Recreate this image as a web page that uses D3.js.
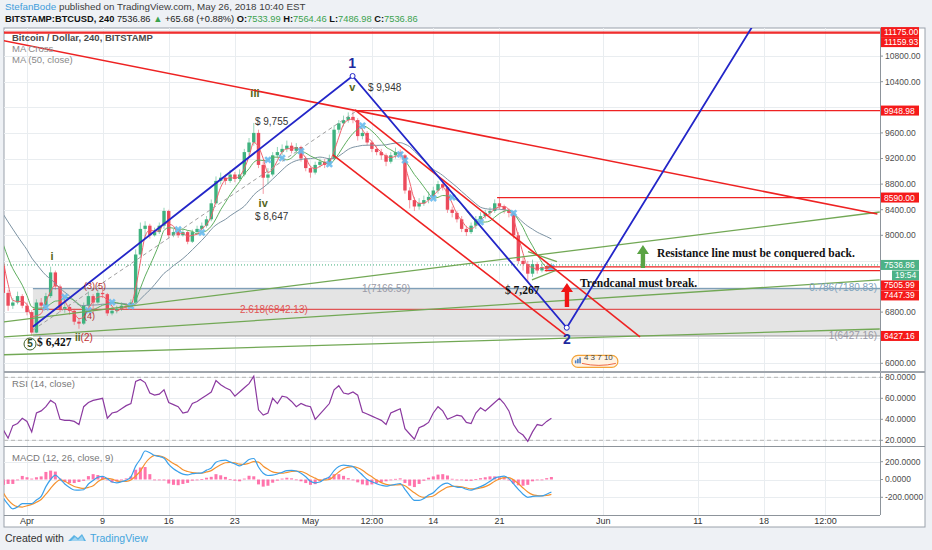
<!DOCTYPE html>
<html><head><meta charset="utf-8">
<script src="https://cdn.jsdelivr.net/npm/d3@7"></script>
<style>
html,body{margin:0;padding:0;background:#eef1f5;}
svg{display:block;font-family:"Liberation Sans",Arial,sans-serif;}
</style></head><body>
<svg id="c" width="932" height="550"></svg>
<script>
// ---------------- DATA ----------------
const candleStart = "2018-03-29T12:00";   // first candle (UTC), one candle every 12h
const candleHours = 12;
const firstOpen = 7520;
const closes = [7100,6900,6950,7050,6900,6800,6480,6950,6900,7050,
 7420,7200,6850,6880,6820,6650,6620,6900,7050,6950,
 7100,7080,6780,6820,6850,6900,6880,6950,7700,8100,
 8150,8000,8050,8150,8380,8000,8050,8000,8050,7900,
 8050,8100,8150,8250,8500,8850,8900,8850,8950,8880,
 8950,9300,9450,9600,9100,8900,8950,9250,9300,9350,
 9400,9320,9380,9200,9050,8980,9100,9150,9100,9200,
 9650,9750,9800,9850,9800,9550,9600,9450,9350,9300,
 9250,9150,9250,9300,9250,8700,8550,8450,8500,8550,
 8600,8700,8800,8750,8400,8350,8250,8100,8050,8150,
 8250,8300,8350,8380,8500,8450,8400,8350,8000,7600,
 7550,7400,7550,7450,7500,7470,7537];
const highs = [7560,7150,7020,7120,7080,6950,6830,7000,7020,7100,
 7510,7450,7230,6950,6920,6850,6700,6950,7120,7080,
 7150,7180,7100,6880,6900,6950,6940,7000,7780,8200,
 8220,8180,8120,8200,8430,8400,8100,8090,8110,8070,
 8090,8150,8200,8300,8560,8920,8980,8950,9020,8990,
 9030,9350,9520,9755,9650,9150,9050,9300,9380,9420,
 9480,9450,9440,9400,9230,9080,9150,9200,9190,9260,
 9720,9800,9870,9920,9948,9830,9680,9630,9480,9400,
 9350,9280,9300,9370,9340,9270,8750,8600,8580,8620,
 8680,8760,8850,8840,8770,8450,8380,8300,8150,8200,
 8300,8360,8400,8440,8560,8590,8480,8420,8380,8050,
 7680,7600,7620,7580,7560,7540,7564];
const lows = [7050,6820,6850,6920,6860,6750,6427,6470,6850,6880,
 7020,7150,6800,6790,6760,6600,6540,6600,6870,6770,
 6930,7020,6740,6750,6780,6820,6840,6860,6930,7650,
 7950,7950,7980,8020,8100,7950,7970,7960,7980,7860,
 7880,8020,8060,8120,8220,8480,8800,8790,8820,8830,
 8850,8920,9250,9400,9050,8647,8800,8920,9200,9250,
 9300,9280,9290,9150,9000,8900,8950,9060,9050,9080,
 9180,9600,9700,9760,9750,9480,9500,9400,9300,9250,
 9180,9080,9120,9200,9200,8650,8420,8380,8400,8460,
 8500,8560,8650,8700,8350,8280,8200,8050,7990,8020,
 8100,8200,8260,8300,8350,8400,8340,8280,7950,7550,
 7450,7267,7350,7400,7420,7430,7460];
// closes before the first drawn candle (only feed the moving averages)
const warmupCloses = [8900,8850,8950,8700,8600,8650,8550,8500,8450,8450,8300,8150,7950,7800,7950,7700];
const rsiValues = [30,22,34,36,41,38,28,46,48,52,
 58,55,40,39,39,38,35,52,56,58,
 59,60,41,46,47,50,53,55,76,78,
 75,65,63,64,68,56,54,52,46,47,
 55,57,60,63,66,77,73,70,68,62,
 66,70,74,81,49,44,46,60,55,62,
 61,57,52,55,53,52,40,45,50,55,
 68,72,65,64,66,63,47,45,43,41,
 39,35,46,48,50,31,26,21,32,34,
 37,46,52,48,40,42,44,43,37,36,
 46,51,48,52,56,60,55,48,35,28,
 25,19,28,35,34,38,41];
const macdValues = [-210,-280,-330,-310,-270,-270,-270,-230,-190,-80,
 0,49,5,-50,-90,-118,-120,-115,-50,-10,
 25,35,10,-28,-37,-25,-8,30,150,230,
 320,300,270,258,240,170,120,86,60,52,
 65,70,75,105,130,195,212,217,195,175,
 152,180,225,236,140,70,45,49,62,80,
 100,103,96,70,30,-20,-37,-28,5,30,
 100,145,161,155,145,100,50,0,-25,-47,
 -65,-75,-65,-55,-45,-110,-180,-235,-235,-214,
 -175,-150,-95,-55,-40,-70,-85,-90,-110,-120,
 -100,-80,-55,-20,15,30,37,10,-50,-110,
 -165,-200,-190,-187,-185,-165,-140];
const signalValues = [-150,-230,-280,-305,-310,-295,-280,-255,-225,-165,
 -100,-40,-5,-20,-50,-78,-92,-100,-88,-70,
 -25,5,12,5,-15,-22,-20,-5,40,95,
 180,240,270,265,250,215,180,150,110,90,
 78,72,70,85,100,135,165,188,192,188,
 172,170,183,200,195,150,115,85,75,70,
 80,90,95,90,70,40,15,-8,-5,0,
 40,85,120,140,145,132,105,65,30,-5,
 -35,-55,-63,-62,-58,-70,-110,-150,-185,-200,
 -195,-185,-150,-115,-85,-78,-78,-82,-95,-105,
 -105,-95,-80,-55,-20,5,20,20,-5,-45,
 -95,-140,-170,-180,-185,-180,-168];
const maShortLen = 3, maLongLen = 7, ma50Len = 17;   // 9 / 21 / 50 four-hour bars expressed in 12h bars

const priceTicks = [6000,6400,6800,7200,7600,8000,8400,8800,9200,9600,10000,10400,10800,11200];
const rsiTicks = [20,40,60,80];
const rsiBands = [80,20];
const macdTicks = [-200,0,200];
const timeTicks = [["2018-04-01T00:00","Apr"],["2018-04-09T00:00","9"],["2018-04-16T00:00","16"],["2018-04-23T00:00","23"],
 ["2018-05-01T00:00","May"],["2018-05-07T12:00","12:00"],["2018-05-14T00:00","14"],["2018-05-21T00:00","21"],
 ["2018-06-01T00:00","Jun"],["2018-06-11T00:00","11"],["2018-06-18T00:00","18"],["2018-06-24T12:00","12:00"]];

// drawings (time, price)
const resistanceLine = [["2018-03-29T12:00",11041],["2018-06-30T00:00",8333]];
const greenLines = [
 [["2018-03-29T12:00",6645],["2018-06-30T06:00",8364]],
 [["2018-03-29T12:00",6411],["2018-06-30T06:00",7302]],
 [["2018-03-29T12:00",6133],["2018-06-30T06:00",6536]],
 [["2018-05-24T00:30",7744],["2018-05-27T02:00",7588]],
 [["2018-05-24T10:30",7302],["2018-05-27T02:00",7458]]];
const waveLine = [["2018-04-01T15:00",6572],["2018-05-05T11:00",10489],["2018-05-28T03:00",6556],["2018-06-17T00:00",11318]];
const channelLines = [
 [["2018-05-05T17:00",9958],["2018-06-04T21:00",6411]],
 [["2018-05-03T09:00",9255],["2018-05-28T01:00",6442]]];
const dashedLine = [["2018-04-01T15:00",6520],["2018-05-05T17:00",9927]];
const hLevels = [[11175.00,"2018-03-29T00:00"],[11159.93,"2018-03-29T00:00"],[9948.98,"2018-05-05T17:00"],
 [8590.00,"2018-05-20T18:00"],[7505.99,"2018-05-25T19:00"],[7447.39,"2018-05-25T19:00"]];
const lastPrice = 7536.86;
const lastTime = "19:54";
const fibStart = "2018-04-01T15:00";
const fibTop = 7166.59, fibBottom = 6427.16, fibMid = 6842.13;
const fibLabels = [["1(7166.59)","2018-05-06T11:00",7166.59],["2.618(6842.13)","2018-04-23T13:00",6842.13]];
const fibRightLabels = [["0.786(7180.83)",7180.83],["1(6427.16)",6427.16]];
const waveLabels = [["iii","2018-04-25T03:00",10161],["v","2018-05-05T10:00",10255],["iv","2018-04-26T00:00",8442],["i","2018-04-03T15:30",7614]];
const waveNumbers = [["1","2018-05-05T10:00",10620],["2","2018-05-28T03:30",6295]];
const priceNotes = [["$ 9,948","2018-05-07T02:00",10255],["$ 9,755","2018-04-25T03:00",9723],["$ 8,647","2018-04-25T03:00",8239]];
const boldNotes = [["$ 6,427","2018-04-02T01:30",6270],["$ 7,267","2018-05-21T14:00",7083]];
const subLabels = [["(3)(5)","2018-04-07T01:00",7161],["(4)","2018-04-07T01:00",6692]];
const iiLabel = ["ii","(2)","2018-04-06T02:00",6348];
const circledFive = ["5","2018-04-01T07:40",6302];
const comments = [["Trendcanal must break.","2018-05-29T12:30",7192],["Resistance line must be conquered back.","2018-06-06T16:00",7661]];
const upArrows = [["2018-05-28T03:30",6880,7255,"red"],["2018-06-05T04:30",7489,7848,"green"]];
const eventsIcon = ["2018-05-28T16:00",6030,"4 3 7 10"];

// ---------------- SETUP ----------------
const parseT = d3.utcParse("%Y-%m-%dT%H:%M");
const t0 = parseT(candleStart).getTime();
const times = closes.map((_, i) => new Date(t0 + i * candleHours * 3600e3));
const opens = closes.map((c, i) => i === 0 ? firstOpen : closes[i - 1]);

const P = {l:4, r:880, frameR:925, top:28, mainB:372, rsiB:446, macdB:515, frameB:527};
const x = d3.scaleUtc().domain([parseT("2018-04-01T00:00"), parseT("2018-06-18T00:00")]).range([27, 764]);
const y = d3.scaleLinear().domain([6000, 10400]).range([363.3, 81.7]);
const yR = d3.scaleLinear().domain([20, 80]).range([440.3, 377.3]);
const yM = d3.scaleLinear().domain([-200, 200]).range([497.3, 461.7]);
const pt = d => [x(parseT(d[0])), y(d[1])];

const RED = "#ee2222", BLUE = "#2326c8", GREEN = "#72a855", OLIVE = "#55661c";
const SERIF = "'Liberation Serif','Times New Roman',serif";

const svg = d3.select("#c");
svg.append("rect").attr("width", 932).attr("height", 550).attr("fill", "#eef1f5");
svg.append("rect").attr("x", P.l).attr("y", P.top).attr("width", P.frameR - P.l).attr("height", P.frameB - P.top)
  .attr("fill", "#fff").attr("stroke", "#9aa2ab").attr("stroke-width", 1);

const defs = svg.append("defs");
function clip(id, y0, y1) {
  defs.append("clipPath").attr("id", id).append("rect").attr("x", P.l).attr("y", y0).attr("width", P.r - P.l).attr("height", y1 - y0);
}
clip("cm", P.top, P.mainB); clip("cr", P.mainB, P.rsiB); clip("cd", P.rsiB, P.macdB);

// ---------------- GRID ----------------
const grid = svg.append("g").attr("stroke", "#e9edf0").attr("stroke-width", 1);
timeTicks.forEach(d => {
  const xx = Math.round(x(parseT(d[0]))) + 0.5;
  grid.append("line").attr("x1", xx).attr("x2", xx).attr("y1", P.top).attr("y2", P.macdB);
});
priceTicks.forEach(p => { const yy = Math.round(y(p)) + 0.5; if (yy > P.top && yy < P.mainB) grid.append("line").attr("x1", P.l).attr("x2", P.r).attr("y1", yy).attr("y2", yy); });
rsiTicks.forEach(p => { const yy = Math.round(yR(p)) + 0.5; grid.append("line").attr("x1", P.l).attr("x2", P.r).attr("y1", yy).attr("y2", yy); });
macdTicks.forEach(p => { const yy = Math.round(yM(p)) + 0.5; grid.append("line").attr("x1", P.l).attr("x2", P.r).attr("y1", yy).attr("y2", yy); });

// ---------------- MAIN PANEL ----------------
const gm = svg.append("g").attr("clip-path", "url(#cm)");
const xr = x(parseT(fibStart));
gm.append("rect").attr("x", xr).attr("y", y(fibTop)).attr("width", P.r - xr).attr("height", y(fibBottom) - y(fibTop)).attr("fill", "#e4e4e4");
gm.append("line").attr("x1", xr).attr("x2", P.r).attr("y1", y(fibTop)).attr("y2", y(fibTop)).attr("stroke", "#7f9fb8").attr("stroke-width", 1.2);
gm.append("line").attr("x1", xr).attr("x2", P.r).attr("y1", y(fibBottom)).attr("y2", y(fibBottom)).attr("stroke", "#9a9a9a").attr("stroke-width", 1);
gm.append("line").attr("x1", xr).attr("x2", P.r).attr("y1", y(fibMid)).attr("y2", y(fibMid)).attr("stroke", "#e05555").attr("stroke-width", 1.1);

gm.append("line").attr("x1", P.l).attr("x2", P.r).attr("y1", y(lastPrice)).attr("y2", y(lastPrice))
  .attr("stroke", "#3fae7c").attr("stroke-width", 1).attr("stroke-dasharray", "1,2");

// candles
const bw = 3.4;
const cg = gm.append("g");
closes.forEach((c, i) => {
  const o = opens[i], up = c >= o, col = up ? "#3fb27f" : "#ec4a5b";
  const xx = x(times[i]);
  cg.append("line").attr("x1", xx).attr("x2", xx).attr("y1", y(highs[i])).attr("y2", y(lows[i])).attr("stroke", col).attr("stroke-opacity", 0.55).attr("stroke-width", 1);
  const y0 = y(Math.max(o, c)), h = Math.max(1, Math.abs(y(o) - y(c)));
  cg.append("rect").attr("x", xx - bw / 2).attr("y", y0).attr("width", bw).attr("height", h).attr("fill", col);
});

// moving averages
const all = warmupCloses.concat(closes);
const sma = n => closes.map((c, i) => { const j = i + warmupCloses.length; return d3.mean(all.slice(j - n + 1, j + 1)); });
const maS = sma(maShortLen), maL = sma(maLongLen), ma50 = sma(ma50Len);
const lineXY = arr => d3.line().x((d, i) => x(times[i])).y(d => y(d)).curve(d3.curveMonotoneX)(arr);
gm.append("path").attr("d", lineXY(ma50)).attr("fill", "none").attr("stroke", "#7d93a3").attr("stroke-width", 1);
gm.append("path").attr("d", lineXY(maL)).attr("fill", "none").attr("stroke", "#5fae5f").attr("stroke-width", 1);
gm.append("path").attr("d", lineXY(maS)).attr("fill", "none").attr("stroke", "#f0606b").attr("stroke-width", 1);
for (let i = 1; i < closes.length; i++) {
  if (Math.sign(maS[i] - maL[i]) !== Math.sign(maS[i - 1] - maL[i - 1])) {
    gm.append("path").attr("d", d3.symbol(d3.symbolCross, 34)())
      .attr("transform", `translate(${x(times[i])},${y(maL[i])}) rotate(45)`).attr("fill", "#6cbcef").attr("opacity", 0.9);
  }
}

// horizontal levels
hLevels.forEach(d => {
  gm.append("line").attr("x1", Math.max(P.l, x(parseT(d[1])))).attr("x2", P.r).attr("y1", y(d[0])).attr("y2", y(d[0]))
    .attr("stroke", RED).attr("stroke-width", d[0] > 11000 ? 1.4 : 1.2);
});
const seg = (pts, col, w, dash) => gm.append("path").attr("d", d3.line()(pts.map(pt))).attr("fill", "none")
  .attr("stroke", col).attr("stroke-width", w).attr("stroke-dasharray", dash || null);
seg(dashedLine, "#a0a0a0", 1, "4,3");
greenLines.forEach(l => seg(l, GREEN, 1.3));
seg(resistanceLine, RED, 1.6);
channelLines.forEach(l => seg(l, RED, 1.6));
seg(waveLine, BLUE, 1.8);
waveLine.slice(1, 3).forEach(d => { const p = pt(d); gm.append("circle").attr("cx", p[0]).attr("cy", p[1]).attr("r", 2.5).attr("fill", "#fff").attr("stroke", BLUE).attr("stroke-width", 1); });

// arrows
upArrows.forEach(a => {
  const xx = x(parseT(a[0])), yb = y(a[1]), yt = y(a[2]);
  const col = a[3] === "red" ? "#f01414" : "#5aa343";
  gm.append("path").attr("d", `M${xx - 2.2},${yb} L${xx - 2.2},${yt + 9} L${xx - 6},${yt + 9} L${xx},${yt} L${xx + 6},${yt + 9} L${xx + 2.2},${yt + 9} L${xx + 2.2},${yb} Z`).attr("fill", col);
});

// texts on chart
const T = (s, d, p, o, st) => {
  const t = gm.append("text").attr("x", x(parseT(d))).attr("y", y(p)).text(s);
  Object.entries(o || {}).forEach(([k, v]) => t.attr(k, v));
  Object.entries(st || {}).forEach(([k, v]) => t.style(k, v));
  return t;
};
fibLabels.forEach((d, i) => T(d[0], d[1], d[2], {"font-size": 10, fill: i === 0 ? "#9a9aa6" : "#e05555", dy: "0.35em"}));
fibRightLabels.forEach((d, i) => gm.append("text").attr("x", P.r - 3).attr("y", y(d[1])).attr("dy", "0.35em").attr("text-anchor", "end")
  .attr("font-size", 10).attr("fill", i === 0 ? "#7fa3bd" : "#9a9aa6").text(d[0]));
waveLabels.forEach(d => T(d[0], d[1], d[2], {"font-size": 11, "font-weight": "bold", fill: OLIVE, "text-anchor": "middle"}));
waveNumbers.forEach(d => T(d[0], d[1], d[2], {"font-size": 14, "font-weight": "bold", fill: "#1d2a9e", "text-anchor": "middle"}));
priceNotes.forEach(d => T(d[0], d[1], d[2], {"font-size": 10, fill: "#333"}));
boldNotes.forEach(d => T(d[0], d[1], d[2], {"font-size": 11.5, "font-weight": "bold", fill: "#111"}, {"font-family": SERIF}));
subLabels.forEach(d => T(d[0], d[1], d[2], {"font-size": 9, fill: "#b23030"}));
{
  const t = T("", iiLabel[2], iiLabel[3], {"font-size": 10});
  t.append("tspan").attr("fill", OLIVE).attr("font-weight", "bold").text(iiLabel[0]);
  t.append("tspan").attr("fill", "#c03030").text(iiLabel[1]);
}
{
  const cx = x(parseT(circledFive[1])), cy = y(circledFive[2]);
  gm.append("circle").attr("cx", cx).attr("cy", cy).attr("r", 6).attr("fill", "none").attr("stroke", "#3f5f2a").attr("stroke-width", 1);
  gm.append("text").attr("x", cx).attr("y", cy).attr("dy", "0.35em").attr("text-anchor", "middle").attr("font-size", 10).attr("font-weight", "bold").attr("fill", "#2f4f1f").text(circledFive[0]);
}
comments.forEach(d => T(d[0], d[1], d[2], {"font-size": 11.5, "font-weight": "bold", fill: "#111"}, {"font-family": SERIF}));

// events icon
{
  const ex = x(parseT(eventsIcon[0])), ey = y(eventsIcon[1]);
  const g = gm.append("g");
  g.append("rect").attr("x", ex).attr("y", ey - 6).attr("width", 46).attr("height", 12).attr("rx", 6).attr("fill", "#fff3e3").attr("stroke", "#f4a43a").attr("stroke-width", 1.2);
  [0, 1, 2].forEach(k => g.append("rect").attr("x", ex + 3 + k * 2.2).attr("y", ey - 1 - k * 1.5).attr("width", 1.6).attr("height", 3 + k * 1.5).attr("fill", "#4a7fc8"));
  g.append("text").attr("x", ex + 12).attr("y", ey - 1).attr("font-size", 8).attr("fill", "#444").text(eventsIcon[2]);
  g.append("path").attr("d", `M${ex + 10},${ey + 2} Q${ex + 27},${ey + 6} ${ex + 44},${ey + 2}`).attr("fill", "none").attr("stroke", "#ee6a4a").attr("stroke-width", 1);
}

// ---------------- RSI ----------------
const gr = svg.append("g").attr("clip-path", "url(#cr)");
rsiBands.forEach(b => gr.append("line").attr("x1", P.l).attr("x2", P.r).attr("y1", yR(b)).attr("y2", yR(b)).attr("stroke", "#b5b5b5").attr("stroke-dasharray", "4,3"));
gr.append("path").attr("d", d3.line().x((d, i) => x(times[i])).y(d => yR(d))(rsiValues)).attr("fill", "none").attr("stroke", "#8b3aa0").attr("stroke-width", 1.2);

// ---------------- MACD ----------------
const gd = svg.append("g").attr("clip-path", "url(#cd)");
macdValues.forEach((m, i) => {
  const h = m - signalValues[i];
  gd.append("rect").attr("x", x(times[i]) - 1.5).attr("width", 3).attr("y", Math.min(yM(0), yM(h))).attr("height", Math.max(0.8, Math.abs(yM(h) - yM(0)))).attr("fill", "#ff5c9d").attr("opacity", 0.85);
});
gd.append("path").attr("d", d3.line().x((d, i) => x(times[i])).y(d => yM(d)).curve(d3.curveMonotoneX)(signalValues)).attr("fill", "none").attr("stroke", "#f5922f").attr("stroke-width", 1.2);
gd.append("path").attr("d", d3.line().x((d, i) => x(times[i])).y(d => yM(d)).curve(d3.curveMonotoneX)(macdValues)).attr("fill", "none").attr("stroke", "#3aa0ea").attr("stroke-width", 1.2);

// ---------------- PANEL BORDERS ----------------
const bord = svg.append("g").attr("stroke", "#8d949b");
bord.append("line").attr("x1", P.r + 0.5).attr("x2", P.r + 0.5).attr("y1", P.top).attr("y2", P.macdB);
bord.append("line").attr("x1", P.l).attr("x2", P.frameR).attr("y1", P.mainB).attr("y2", P.mainB).attr("stroke-width", 2).attr("stroke", "#a0a6ad");
bord.append("line").attr("x1", P.l).attr("x2", P.frameR).attr("y1", P.rsiB + 0.5).attr("y2", P.rsiB + 0.5);
bord.append("line").attr("x1", P.l).attr("x2", P.r).attr("y1", P.macdB + 0.5).attr("y2", P.macdB + 0.5);

// ---------------- PRICE LABEL BOXES (stacked) ----------------
const boxes = [];
hLevels.forEach(d => boxes.push({p: d[0], txt: d[0].toFixed(2), col: "#f51a1a"}));
boxes.push({p: lastPrice, txt: lastPrice.toFixed(2), col: "#4db287", sub: lastTime});
boxes.push({p: fibBottom, txt: fibBottom.toFixed(2), col: "#f51a1a"});
boxes.sort((a, b) => y(a.p) - y(b.p));
let prevBottom = -1e9;
const bh = 10;
const boxSpans = [];
boxes.forEach(b => {
  b.cy = Math.max(y(b.p), prevBottom + bh / 2);
  boxSpans.push([b.cy - bh / 2, b.cy + bh / 2]);
  prevBottom = b.cy + bh / 2;
  if (b.sub) { b.cy2 = prevBottom + bh / 2 + 0.5; boxSpans.push([b.cy2 - bh / 2, b.cy2 + bh / 2]); prevBottom = b.cy2 + bh / 2; }
});
const hidden = yy => boxSpans.some(s => yy + 4 > s[0] && yy - 4 < s[1]);

// ---------------- AXES ----------------
const ax = svg.append("g").attr("font-size", 8.5).attr("fill", "#4d4d4d");
priceTicks.forEach(p => { const yy = y(p); if (yy > P.top + 3 && yy < P.mainB - 3) {
  ax.append("line").attr("x1", P.r).attr("x2", P.r + 3).attr("y1", yy).attr("y2", yy).attr("stroke", "#8d949b");
  if (!hidden(yy)) ax.append("text").attr("x", P.r + 5).attr("y", yy).attr("dy", "0.35em").text(p.toFixed(2)); } });
rsiTicks.forEach(p => { ax.append("line").attr("x1", P.r).attr("x2", P.r + 3).attr("y1", yR(p)).attr("y2", yR(p)).attr("stroke", "#8d949b");
  ax.append("text").attr("x", P.r + 5).attr("y", yR(p)).attr("dy", "0.35em").text(p.toFixed(4)); });
macdTicks.forEach(p => { ax.append("line").attr("x1", P.r).attr("x2", P.r + 3).attr("y1", yM(p)).attr("y2", yM(p)).attr("stroke", "#8d949b");
  ax.append("text").attr("x", P.r + 5).attr("y", yM(p)).attr("dy", "0.35em").text(p.toFixed(4)); });
timeTicks.forEach(d => ax.append("text").attr("x", x(parseT(d[0]))).attr("y", P.macdB + 9).attr("text-anchor", "middle").attr("font-size", 9).attr("fill", "#333").text(d[1]));

boxes.forEach(b => {
  const g = svg.append("g");
  g.append("rect").attr("x", P.r + 1).attr("y", b.cy - bh / 2).attr("width", 38).attr("height", bh).attr("fill", b.col);
  g.append("text").attr("x", P.r + 4).attr("y", b.cy).attr("dy", "0.35em").attr("font-size", 8.5).attr("fill", "#fff").text(b.txt);
  if (b.sub) {
    g.append("rect").attr("x", P.r + 12).attr("y", b.cy2 - bh / 2).attr("width", 27).attr("height", bh).attr("fill", b.col);
    g.append("text").attr("x", P.r + 15).attr("y", b.cy2).attr("dy", "0.35em").attr("font-size", 8.5).attr("fill", "#fff").text(b.sub);
  }
});

// ---------------- LEGENDS ----------------
const lg = svg.append("g").attr("font-size", 9.5);
lg.append("text").attr("x", 12).attr("y", 41).attr("fill", "#4a4a4a").attr("font-weight", "bold").text("Bitcoin / Dollar, 240, BITSTAMP");
lg.append("text").attr("x", 12).attr("y", 52).attr("fill", "#8a8a8a").text("MA Cross");
lg.append("text").attr("x", 12).attr("y", 63).attr("fill", "#8a8a8a").text("MA (50, close)");
lg.append("text").attr("x", 12).attr("y", 387).attr("fill", "#777").text("RSI (14, close)");
lg.append("text").attr("x", 12).attr("y", 461).attr("fill", "#777").text("MACD (12, 26, close, 9)");

// ---------------- HEADER / FOOTER ----------------
const h1 = svg.append("text").attr("x", 5).attr("y", 10).attr("font-size", 9.8).attr("fill", "#3c3c3c");
h1.append("tspan").attr("fill", "#3f9ddb").text("StefanBode");
h1.append("tspan").text(" published on TradingView.com, May 26, 2018 10:40 EST");
const h2 = svg.append("text").attr("x", 5).attr("y", 21.5).attr("font-size", 9.3).attr("fill", "#222");
const hg = "#3aa24d";
[["BITSTAMP:BTCUSD, 240", "#111", "bold"], [" 7536.86 ", "#222"], ["▲", hg], [" +65.68 (+0.88%) ", "#222"],
 ["O:", "#111", "bold"], ["7533.99", hg], [" H:", "#111", "bold"], ["7564.46", hg], [" L:", "#111", "bold"], ["7486.98", hg],
 [" C:", "#111", "bold"], ["7536.86", hg]].forEach(s => h2.append("tspan").attr("fill", s[1]).attr("font-weight", s[2] || null).text(s[0]));

svg.append("text").attr("x", 5).attr("y", 542).attr("font-size", 10.5).attr("fill", "#333").text("Created with");
{
  const g = svg.append("g").attr("transform", "translate(68,533)");
  g.append("path").attr("d", "M0,8 L6,2 L10,5 L14,1 L18,8 Z").attr("fill", "#5bb3e4");
  g.append("path").attr("d", "M3,8 L7,4 L10,7 L14,3 L16,8 Z").attr("fill", "#9fd3f0");
}
svg.append("text").attr("x", 90).attr("y", 542).attr("font-size", 10.5).attr("fill", "#45a5dd").text("TradingView");
</script></body></html>
